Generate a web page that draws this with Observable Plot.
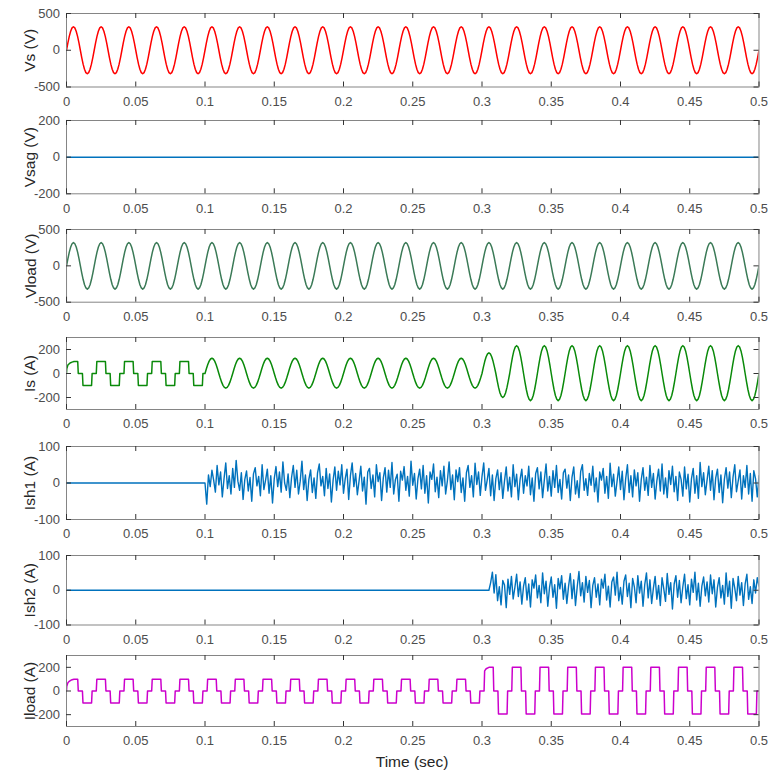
<!DOCTYPE html>
<html>
<head>
<meta charset="utf-8">
<script src="https://cdn.jsdelivr.net/npm/d3@7"></script>
<script src="https://cdn.jsdelivr.net/npm/@observablehq/plot@0.6"></script>
<style>
  html, body { margin: 0; padding: 0; background: #fff; }
  #chart { position: relative; width: 770px; height: 774px; overflow: hidden; }
  #chart > svg, #chart > figure { position: absolute; left: 0; margin: 0; }
  .xlab { position: absolute; font-family: "Liberation Sans", Arial, Helvetica, sans-serif; font-size: 15.5px; color: #262626; }
</style>
</head>
<body>
<div id="chart"></div>
<script>
// ---------------- DATA ----------------
const xTicks = [0, 0.05, 0.1, 0.15, 0.2, 0.25, 0.3, 0.35, 0.4, 0.45, 0.5];
const period = 0.02;           // one mains cycle (50 Hz), 25 cycles in 0.5 s

// one cycle of the sinusoidal waveforms, normalised, 20 samples
const sineShape = [0, 0.31, 0.59, 0.81, 0.95, 1, 0.95, 0.81, 0.59, 0.31,
                   0, -0.31, -0.59, -0.81, -0.95, -1, -0.95, -0.81, -0.59, -0.31];

// one cycle of the six-pulse load current, [phase, normalised value]
const pulseShape = [[0, 0], [0.075, 0], [0.095, 1], [0.405, 1], [0.425, 0], [0.575, 0],
                    [0.595, -1], [0.905, -1], [0.925, 0], [1, 0]];
// first cycle after switch-on (rounded rise)
const pulseStartShape = [[0, 0], [0.01, 0.4], [0.05, 0.7], [0.1, 0.82], [0.15, 0.9], [0.2, 0.95],
                         [0.27, 1], [0.405, 1], [0.425, 0], [0.575, 0],
                         [0.595, -1], [0.905, -1], [0.925, 0], [1, 0]];
// first cycle after the load step at 0.3 s
const pulseStepShape = [[0, 0], [0.075, 0], [0.095, 0.85], [0.15, 0.94], [0.25, 1], [0.405, 1],
                        [0.425, 0], [0.575, 0], [0.595, -1], [0.905, -1], [0.925, 0], [1, 0]];

// per-cycle peak values
const vsAmp    = [320,320,320,320,320,320,320,320,320,320,320,320,320,320,320,320,320,320,320,320,320,320,320,320,320];
const vloadAmp = [320,320,320,320,320,320,320,320,320,320,320,320,320,320,320,320,320,320,320,320,320,320,320,320,320];

const isPulsePos = [100, 100, 100, 100, 100];          // 0 - 0.1 s
const isPulseNeg = [100, 100, 100, 100, 100];
const isSinePos  = [127,127,127,127,127,127,127,127,127,127, 172, 232,232,232,232,232,232,232,232,232]; // 0.1 - 0.5 s
const isSineNeg  = [122,122,122,122,122,122,122,122,122,122, 200, 226,226,226,226,226,226,226,226,226];

const iloadPos = [100,100,100,100,100,100,100,100,100,100,100,100,100,100,100, 200,200,200,200,200,200,200,200,200,200];
const iloadNeg = [102,102,102,102,102,102,102,102,102,102,102,102,102,102,102, 195,195,195,195,195,195,195,195,195,195];

const vsag = [[0, 0], [0.5, 0]];

// shunt filter currents (sampled every 1.25 ms once active)
const ish1Start = 0.1, ish2Start = 0.305, ishStep = 0.00125;
const ish1 = [
  0, -58, 22, -10, 35, 8, -25, 48, -5, 30, -38, 12, 55, -15, 20, -30,
  40, -12, 62, 5, -20, 28, -45, 10, 33, -22, 15, -50, 25, 42, -8, 18,
  -35, 50, -18, 8, 38, -28, 20, -55, 12, 45, -10, 30, -25, 58, 0, -20,
  25, -40, 15, 48, -12, 35, -30, 5, 60, -18, 22, -48, 10, 36, -26, 14,
  -42, 28, 52, -8, 18, -35, 40, -15, 25, -52, 8, 44, -20, 32, -5, 50,
  -28, 12, 38, -45, 20, 55, -10, 26, -32, 6, 46, -22, 16, -58, 30, 40,
  -15, 22, -38, 50, 4, 28, -48, 14, 42, -25, 35, -12, 56, -30, 10, 24,
  -50, 32, 8, 45, -20, 18, -36, 60, -6, 26, -44, 12, 38, -16, 48, -28,
  20, -55, 30, 10, 52, -24, 16, -40, 34, -8, 46, -30, 6, 58, -18, 22,
  -46, 36, 4, 42, -26, 14, -50, 28, 48, -12, 20, -38, 54, -4, 30, -34,
  18, 55, -20, 8, 40, -35, 22, -48, 12, 36, -18, 28, -42, 6, 44, -22,
  16, -38, 50, -10, 24, -46, 10, 38, -28, 20, -8, 46, -32, 14, -50, 26,
  42, -16, 30, -40, 8, 52, -22, 18, -36, 34, -12, 48, -26, 10, -44, 28,
  38, -14, 22, -48, 16, 44, -30, 6, -40, 32, 50, -20, 12, -34, 26, -6,
  46, -24, 14, -52, 30, 8, 40, -28, 18, -42, 54, -10, 24, -36, 4, 44,
  -18, 32, -46, 12, 50, -26, 20, -38, 36, -8, 28, -50, 10, 42, -20, 16,
  -34, 48, -12, 26, -44, 6, 38, -22, 52, -30, 14, -40, 34, -4, 46, -24,
  18, -48, 30, 10, -36, 44, -16, 24, -52, 12, 40, -28, 20, -42, 56, -10,
  28, -32, 8, 46, -20, 34, -46, 14, 38, -26, 22, -54, 10, 42, -14, 30,
  -40, 16, 50, -24, 6, 36, -44, 20, -12, 48, -30, 26, -50, 34, 12, -38,
  20
];
const ish2 = [
  0, 22, 52, -8, 45, -30, 10, -42, 28, 15, -50, 32, -12, 40, -25, 8,
  46, -18, 24, -40, 12, 36, -28, 18, -48, 30, 6, 44, -22, 14, -36, 50,
  -10, 26, -46, 8, 38, -20, 16, -52, 34, 4, 42, -26, 20, -38, 12, 48,
  -24, 30, -44, 10, 54, -16, 22, -34, 40, -6, 28, -50, 14, 36, -20, 18,
  -42, 32, 6, 46, -28, 12, -48, 24, 38, -14, 52, -30, 8, -40, 26, 44,
  -18, 20, -50, 34, 10, -36, 42, -8, 26, -46, 16, 50, -22, 30, -38, 6,
  40, -26, 14, -44, 36, 4, -32, 48, -12, 22, -54, 18, 42, -20, 28, -36,
  10, 46, -24, 16, -42, 32, -6, 52, -28, 20, -46, 12, 38, -16, 24, -34,
  44, -10, 30, -48, 8, 36, -22, 14, -40, 50, -18, 26, -52, 34, 6, -30,
  40, -14, 22, -44, 18, 46, -26, 10, -38, 30, -8, 36, 12
];

// ---------------- build series from the arrays ----------------
function sineSeries(t0, pos, neg) {
  const out = [];
  pos.forEach((p, c) => {
    sineShape.forEach((s, k) => {
      out.push({t: t0 + c * period + k * period / sineShape.length, v: s >= 0 ? s * p : s * neg[c]});
    });
  });
  out.push({t: t0 + pos.length * period, v: 0});
  return out;
}
function pulseSeries(t0, pos, neg, shapes) {
  const out = [];
  pos.forEach((p, c) => {
    const shape = shapes[c] || pulseShape;
    shape.forEach(([ph, s]) => {
      out.push({t: t0 + c * period + ph * period, v: s >= 0 ? s * p : s * neg[c]});
    });
  });
  return out;
}
function sampled(t0, vals) {
  return vals.map((v, i) => ({t: t0 + i * ishStep, v}));
}

const vsData = sineSeries(0, vsAmp, vsAmp);
const vloadData = sineSeries(0, vloadAmp, vloadAmp);
const isData = pulseSeries(0, isPulsePos, isPulseNeg, {0: pulseStartShape})
  .concat(sineSeries(0.1, isSinePos, isSineNeg));
const iloadData = pulseSeries(0, iloadPos, iloadNeg, {0: pulseStartShape, 15: pulseStepShape});
const ish1Data = [{t: 0, v: 0}].concat(sampled(ish1Start, ish1));
const ish2Data = [{t: 0, v: 0}].concat(sampled(ish2Start, ish2));
const vsagData = vsag.map(([t, v]) => ({t, v}));

// ---------------- drawing ----------------
const fontFamily = '"Liberation Sans", Arial, Helvetica, sans-serif';
const chart = document.getElementById("chart");
const ML = 66, MR = 11.5, W = 770;
const PW = W - ML - MR;

function panel({top, h, yDomain, yTicks, label, data, color, sw}) {
  const mt = 4, mb = 30;
  const svg = Plot.plot({
    width: W, height: h + mt + mb,
    marginLeft: ML, marginRight: MR, marginTop: mt, marginBottom: mb,
    style: {fontFamily, fontSize: "13px", color: "#4d4d4d", background: "none", overflow: "visible"},
    x: {domain: [0, 0.5], label: null},
    y: {domain: yDomain, label: null},
    marks: [
      Plot.line(data, {x: "t", y: "v", stroke: color, strokeWidth: sw, clip: true, strokeLinejoin: "round"}),
      Plot.frame({stroke: "#858585", strokeWidth: 1}),
      Plot.tickX(xTicks, {x: d => d, insetBottom: h - 5, stroke: "#333", strokeWidth: 1}),
      Plot.tickX(xTicks, {x: d => d, insetTop: h - 5, stroke: "#333", strokeWidth: 1}),
      Plot.tickY(yTicks, {y: d => d, insetRight: PW - 5, stroke: "#333", strokeWidth: 1}),
      Plot.tickY(yTicks, {y: d => d, insetLeft: PW - 5, stroke: "#333", strokeWidth: 1}),
      Plot.axisX({ticks: xTicks, tickSize: 0, tickPadding: 9.5, label: null, tickFormat: d => String(+d.toFixed(2)), fill: "#4d4d4d"}),
      Plot.axisY({ticks: yTicks, tickSize: 0, tickPadding: 6.5, label: null, tickFormat: d => String(d), fill: "#4d4d4d"}),
      Plot.text([label], {text: d => d, frameAnchor: "left", textAnchor: "middle", lineAnchor: "middle", rotate: -90, dx: -36, fontSize: 15.5, fill: "#262626"})
    ]
  });
  svg.style.top = (top - mt) + "px";
  chart.appendChild(svg);
}

panel({top: 12.5, h: 73.5, yDomain: [-500, 500], yTicks: [-500, 0, 500], label: "Vs (V)", data: vsData, color: "#ff0000", sw: 1.5});
panel({top: 120, h: 73.3, yDomain: [-200, 200], yTicks: [-200, 0, 200], label: "Vsag (V)", data: vsagData, color: "#0072bd", sw: 1.5});
panel({top: 228.5, h: 72.7, yDomain: [-500, 500], yTicks: [-500, 0, 500], label: "Vload (V)", data: vloadData, color: "#3b7a57", sw: 1.5});
panel({top: 337.3, h: 72, yDomain: [-300, 300], yTicks: [-200, 0, 200], label: "Is (A)", data: isData, color: "#0a8a0a", sw: 1.5});
panel({top: 446, h: 73, yDomain: [-100, 100], yTicks: [-100, 0, 100], label: "Ish1 (A)", data: ish1Data, color: "#0072bd", sw: 1.4});
panel({top: 555, h: 69.5, yDomain: [-100, 100], yTicks: [-100, 0, 100], label: "Ish2 (A)", data: ish2Data, color: "#0072bd", sw: 1.4});
panel({top: 655, h: 71, yDomain: [-300, 300], yTicks: [-200, 0, 200], label: "Iload (A)", data: iloadData, color: "#cc00cc", sw: 1.5});

const xl = document.createElement("div");
xl.className = "xlab";
xl.textContent = "Time (sec)";
chart.appendChild(xl);
xl.style.left = (ML + PW / 2 - xl.offsetWidth / 2) + "px";
xl.style.top = (762 - xl.offsetHeight / 2) + "px";
</script>
</body>
</html>
